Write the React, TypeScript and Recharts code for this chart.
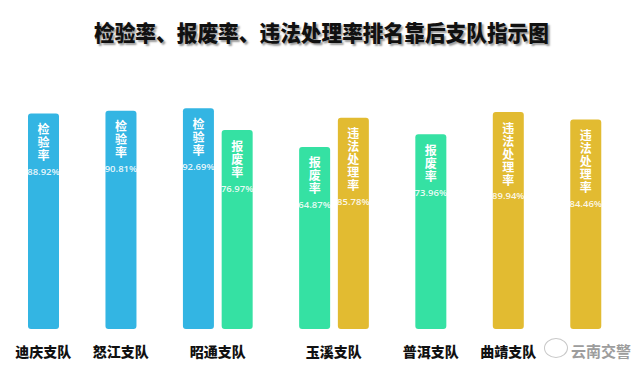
import { BarChart, Bar, XAxis, YAxis, Cell } from 'recharts';

// teams in order; the last label is covered by the watermark in the source
const teams = ['迪庆支队', '怒江支队', '昭通支队', '玉溪支队', '普洱支队', '曲靖支队', ''];
const barTeam = [0, 1, 2, 2, 3, 3, 4, 5, 6];
const barMetric = ['检验率', '检验率', '检验率', '报废率', '报废率', '违法处理率', '报废率', '违法处理率', '违法处理率'];
const barValue = [88.92, 90.81, 92.69, 76.97, 64.87, 85.78, 73.96, 89.94, 84.46];

const colors: Record<string, string> = {
  检验率: '#33b5e3',
  报废率: '#35e1a3',
  违法处理率: '#e2bb31',
};

const W = 643;
const H = 369;
const M = { top: 98, right: 38, bottom: 10, left: 24 };
const Y_MIN = -66;
const Y_MAX = 100;
const CJK = '"Noto Sans CJK SC", "Noto Sans", sans-serif';

type Row = { slot: string; value: number | null; metric: string; team: number; first: boolean; count: number };

// one slot per bar, an empty slot between teams
const rows: Row[] = [];
teams.forEach((_, t) => {
  const idx = barTeam.map((bt, i) => (bt === t ? i : -1)).filter(i => i >= 0);
  if (t > 0) rows.push({ slot: 'gap' + t, value: null, metric: '', team: -1, first: false, count: 0 });
  idx.forEach((i, k) => {
    rows.push({ slot: 'b' + i, value: barValue[i], metric: barMetric[i], team: t, first: k === 0, count: idx.length });
  });
});

const band = (W - M.left - M.right) / rows.length;

function BarShape(props: any) {
  const { x, y, width, height, payload } = props;
  if (!payload || payload.value == null || !height) return null;
  const n = payload.metric.length;
  const cx = x + width / 2;
  return (
    <g>
      <rect x={x} y={y} width={width} height={height} rx={3} ry={3} fill={colors[payload.metric]} />
      <text x={cx} y={y + 10} writingMode="vertical-rl" fill="#fff"
        fontSize={12} fontWeight={700} letterSpacing={1} fontFamily={CJK}>
        {payload.metric}
      </text>
      <text x={cx} y={y + 16 + (n - 1) * 13 + 19.5} textAnchor="middle" fill="#fff"
        fillOpacity={0.9} fontSize={9.5} fontWeight={600} fontFamily='"Open Sans", sans-serif'>
        {payload.value.toFixed(2)}%
      </text>
    </g>
  );
}

function TeamTick(props: any) {
  const { x, y, index } = props;
  const row = rows[index];
  if (!row || !row.first || !teams[row.team]) return null;
  const cx = x + ((row.count - 1) * band) / 2;
  return (
    <text x={cx} y={y + 20} textAnchor="middle" fill="#111" fontSize={14} fontWeight={900} fontFamily={CJK}>
      {teams[row.team]}
    </text>
  );
}

export default function App() {
  return (
    <div style={{ position: 'fixed', left: 0, top: 0, width: W, height: H, background: '#fff' }}>
      <div
        style={{
          position: 'absolute',
          left: 0,
          top: 16,
          width: W,
          textAlign: 'center',
          fontFamily: CJK,
          fontWeight: 900,
          fontSize: 22,
          color: '#111',
          textShadow: '2px 2px 2px rgba(0,0,0,0.4)',
          lineHeight: '30px',
          transform: 'scaleX(0.94)',
        }}
      >
        检验率、报废率、违法处理率排名靠后支队指示图
      </div>
      <BarChart width={W} height={H} data={rows} margin={M} barSize={31}>
        <XAxis dataKey="slot" interval={0} tickLine={false} axisLine={false} height={30} tick={<TeamTick />} />
        <YAxis hide domain={[Y_MIN, Y_MAX]} allowDataOverflow />
        <Bar
          dataKey={(r: Row) => (r.value == null ? null : [Y_MIN, r.value])}
          isAnimationActive={false}
          shape={<BarShape />}
        >
          {rows.map(r => (
            <Cell key={r.slot} fill={colors[r.metric] || 'none'} />
          ))}
        </Bar>
      </BarChart>
      <div
        style={{
          position: 'absolute',
          left: 544,
          top: 338,
          width: 22,
          height: 18,
          borderRadius: '50%',
          border: '1px solid #c8c8c8',
        }}
      />
      <div
        style={{
          position: 'absolute',
          left: 571,
          top: 341,
          fontFamily: CJK,
          fontWeight: 700,
          fontSize: 15,
          color: '#8c8c8c',
          opacity: 0.85,
          lineHeight: '20px',
        }}
      >
        云南交警
      </div>
    </div>
  );
}
